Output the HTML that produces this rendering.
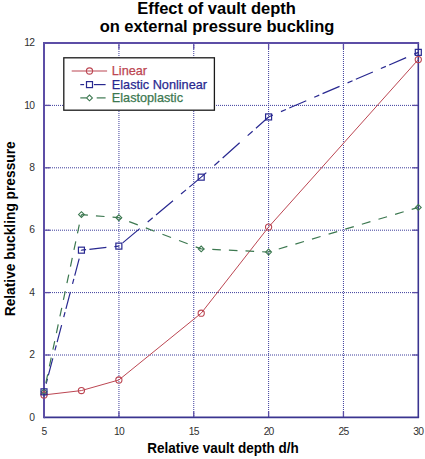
<!DOCTYPE html>
<html><head><meta charset="utf-8"><style>
html,body{margin:0;padding:0;background:#fff;width:425px;height:459px;overflow:hidden;position:relative}
text{font-family:"Liberation Sans",sans-serif}
.tl{font-size:10.3px;fill:#303030;letter-spacing:-0.8px}
.lg{font-size:12.7px;stroke-width:0.25px}
.tt{font-size:16.5px;font-weight:bold;fill:#000}
.ax{font-size:15px;font-weight:bold;fill:#000}
</style></head><body>
<svg width="425" height="459" viewBox="0 0 425 459" style="position:absolute;left:0;top:0">
<line x1="118.94" y1="43.0" x2="118.94" y2="417.4" stroke="#3c3c9c" stroke-width="1" stroke-dasharray="1,1"/>
<line x1="193.75" y1="43.0" x2="193.75" y2="417.4" stroke="#3c3c9c" stroke-width="1" stroke-dasharray="1,1"/>
<line x1="268.60" y1="43.0" x2="268.60" y2="417.4" stroke="#3c3c9c" stroke-width="1" stroke-dasharray="1,1"/>
<line x1="343.45" y1="43.0" x2="343.45" y2="417.4" stroke="#3c3c9c" stroke-width="1" stroke-dasharray="1,1"/>
<line x1="44.0" y1="355.00" x2="418.3" y2="355.00" stroke="#3c3c9c" stroke-width="1" stroke-dasharray="1,1"/>
<line x1="44.0" y1="292.60" x2="418.3" y2="292.60" stroke="#3c3c9c" stroke-width="1" stroke-dasharray="1,1"/>
<line x1="44.0" y1="230.20" x2="418.3" y2="230.20" stroke="#3c3c9c" stroke-width="1" stroke-dasharray="1,1"/>
<line x1="44.0" y1="167.80" x2="418.3" y2="167.80" stroke="#3c3c9c" stroke-width="1" stroke-dasharray="1,1"/>
<line x1="44.0" y1="105.40" x2="418.3" y2="105.40" stroke="#3c3c9c" stroke-width="1" stroke-dasharray="1,1"/>
<line x1="118.94" y1="417.4" x2="118.94" y2="411.4" stroke="#5c4ea6" stroke-width="1.3"/>
<line x1="118.94" y1="43.0" x2="118.94" y2="49.0" stroke="#5c4ea6" stroke-width="1.3"/>
<line x1="193.75" y1="417.4" x2="193.75" y2="411.4" stroke="#5c4ea6" stroke-width="1.3"/>
<line x1="193.75" y1="43.0" x2="193.75" y2="49.0" stroke="#5c4ea6" stroke-width="1.3"/>
<line x1="268.6" y1="417.4" x2="268.6" y2="411.4" stroke="#5c4ea6" stroke-width="1.3"/>
<line x1="268.6" y1="43.0" x2="268.6" y2="49.0" stroke="#5c4ea6" stroke-width="1.3"/>
<line x1="343.45" y1="417.4" x2="343.45" y2="411.4" stroke="#5c4ea6" stroke-width="1.3"/>
<line x1="343.45" y1="43.0" x2="343.45" y2="49.0" stroke="#5c4ea6" stroke-width="1.3"/>
<line x1="44.0" y1="355.0" x2="50.0" y2="355.0" stroke="#5c4ea6" stroke-width="1.3"/>
<line x1="418.3" y1="355.0" x2="412.3" y2="355.0" stroke="#5c4ea6" stroke-width="1.3"/>
<line x1="44.0" y1="292.59999999999997" x2="50.0" y2="292.59999999999997" stroke="#5c4ea6" stroke-width="1.3"/>
<line x1="418.3" y1="292.59999999999997" x2="412.3" y2="292.59999999999997" stroke="#5c4ea6" stroke-width="1.3"/>
<line x1="44.0" y1="230.20000000000002" x2="50.0" y2="230.20000000000002" stroke="#5c4ea6" stroke-width="1.3"/>
<line x1="418.3" y1="230.20000000000002" x2="412.3" y2="230.20000000000002" stroke="#5c4ea6" stroke-width="1.3"/>
<line x1="44.0" y1="167.79999999999998" x2="50.0" y2="167.79999999999998" stroke="#5c4ea6" stroke-width="1.3"/>
<line x1="418.3" y1="167.79999999999998" x2="412.3" y2="167.79999999999998" stroke="#5c4ea6" stroke-width="1.3"/>
<line x1="44.0" y1="105.39999999999998" x2="50.0" y2="105.39999999999998" stroke="#5c4ea6" stroke-width="1.3"/>
<line x1="418.3" y1="105.39999999999998" x2="412.3" y2="105.39999999999998" stroke="#5c4ea6" stroke-width="1.3"/>
<line x1="418.3" y1="43.0" x2="418.3" y2="417.4" stroke="#3a3490" stroke-width="1.6"/>
<line x1="44.0" y1="417.4" x2="419.1" y2="417.4" stroke="#3a3490" stroke-width="1.6"/>
<line x1="44.0" y1="42.0" x2="44.0" y2="418.2" stroke="#5c4ea6" stroke-width="2"/>
<line x1="43.0" y1="43.0" x2="419.1" y2="43.0" stroke="#5c4ea6" stroke-width="2"/>
<text x="44.0" y="435" text-anchor="middle" class="tl">5</text>
<text x="118.9" y="435" text-anchor="middle" class="tl">10</text>
<text x="193.7" y="435" text-anchor="middle" class="tl">15</text>
<text x="268.6" y="435" text-anchor="middle" class="tl">20</text>
<text x="343.4" y="435" text-anchor="middle" class="tl">25</text>
<text x="418.3" y="435" text-anchor="middle" class="tl">30</text>
<text x="34.2" y="420.6" text-anchor="end" class="tl">0</text>
<text x="34.2" y="358.2" text-anchor="end" class="tl">2</text>
<text x="34.2" y="295.8" text-anchor="end" class="tl">4</text>
<text x="34.2" y="233.4" text-anchor="end" class="tl">6</text>
<text x="34.2" y="171.0" text-anchor="end" class="tl">8</text>
<text x="34.2" y="108.6" text-anchor="end" class="tl">10</text>
<text x="34.2" y="46.2" text-anchor="end" class="tl">12</text>
<polyline points="44.00,394.94 81.43,390.57 118.86,379.96 201.21,313.19 268.58,227.08 418.30,59.54" fill="none" stroke="#bc4652" stroke-width="1.0"/>
<line x1="44.00" y1="391.82" x2="81.43" y2="250.17" stroke="#282890" stroke-width="1.2" stroke-dasharray="17.58,8.27,5.17,3.42" stroke-dashoffset="17.52"/>
<line x1="81.43" y1="250.17" x2="118.86" y2="246.11" stroke="#282890" stroke-width="1.2" stroke-dasharray="17.10,8.05,5.03,3.33" stroke-dashoffset="25.50"/>
<line x1="118.86" y1="246.11" x2="201.21" y2="177.16" stroke="#282890" stroke-width="1.2" stroke-dasharray="22.17,10.43,6.52,4.32" stroke-dashoffset="38.43"/>
<line x1="201.21" y1="177.16" x2="268.58" y2="116.94" stroke="#282890" stroke-width="1.2" stroke-dasharray="22.80,10.73,6.71,4.44" stroke-dashoffset="15.94"/>
<line x1="268.58" y1="116.94" x2="418.30" y2="52.36" stroke="#282890" stroke-width="1.2" stroke-dasharray="18.51,8.71,5.45,3.60" stroke-dashoffset="13.76"/>
<line x1="44.00" y1="391.82" x2="81.43" y2="214.60" stroke="#3c7850" stroke-width="1.2" stroke-dasharray="8.79,8.20" stroke-dashoffset="7.89"/>
<line x1="81.43" y1="214.60" x2="118.86" y2="217.72" stroke="#3c7850" stroke-width="1.2" stroke-dasharray="8.63,8.05" stroke-dashoffset="2.12"/>
<line x1="118.86" y1="217.72" x2="201.21" y2="248.92" stroke="#3c7850" stroke-width="1.2" stroke-dasharray="9.20,8.58" stroke-dashoffset="6.74"/>
<line x1="201.21" y1="248.92" x2="268.58" y2="252.04" stroke="#3c7850" stroke-width="1.2" stroke-dasharray="8.61,8.03" stroke-dashoffset="5.56"/>
<line x1="268.58" y1="252.04" x2="418.30" y2="207.42" stroke="#3c7850" stroke-width="1.2" stroke-dasharray="8.97,8.37" stroke-dashoffset="6.73"/>
<circle cx="44.00" cy="394.94" r="3.1" fill="none" stroke="#bc4652" stroke-width="1.1"/>
<circle cx="81.43" cy="390.57" r="3.1" fill="none" stroke="#bc4652" stroke-width="1.1"/>
<circle cx="118.86" cy="379.96" r="3.1" fill="none" stroke="#bc4652" stroke-width="1.1"/>
<circle cx="201.21" cy="313.19" r="3.1" fill="none" stroke="#bc4652" stroke-width="1.1"/>
<circle cx="268.58" cy="227.08" r="3.1" fill="none" stroke="#bc4652" stroke-width="1.1"/>
<circle cx="418.30" cy="59.54" r="3.1" fill="none" stroke="#bc4652" stroke-width="1.1"/>
<path d="M41.10,391.82 L44.00,388.92 L46.90,391.82 L44.00,394.72 Z" fill="none" stroke="#3c7850" stroke-width="1.1"/>
<path d="M78.53,214.60 L81.43,211.70 L84.33,214.60 L81.43,217.50 Z" fill="none" stroke="#3c7850" stroke-width="1.1"/>
<path d="M115.96,217.72 L118.86,214.82 L121.76,217.72 L118.86,220.62 Z" fill="none" stroke="#3c7850" stroke-width="1.1"/>
<path d="M198.31,248.92 L201.21,246.02 L204.11,248.92 L201.21,251.82 Z" fill="none" stroke="#3c7850" stroke-width="1.1"/>
<path d="M265.68,252.04 L268.58,249.14 L271.48,252.04 L268.58,254.94 Z" fill="none" stroke="#3c7850" stroke-width="1.1"/>
<path d="M415.40,207.42 L418.30,204.52 L421.20,207.42 L418.30,210.32 Z" fill="none" stroke="#3c7850" stroke-width="1.1"/>
<rect x="41.00" y="388.82" width="6" height="6" fill="none" stroke="#282890" stroke-width="1.2"/>
<rect x="78.43" y="247.17" width="6" height="6" fill="none" stroke="#282890" stroke-width="1.2"/>
<rect x="115.86" y="243.11" width="6" height="6" fill="none" stroke="#282890" stroke-width="1.2"/>
<rect x="198.21" y="174.16" width="6" height="6" fill="none" stroke="#282890" stroke-width="1.2"/>
<rect x="265.58" y="113.94" width="6" height="6" fill="none" stroke="#282890" stroke-width="1.2"/>
<rect x="415.30" y="49.36" width="6" height="6" fill="none" stroke="#282890" stroke-width="1.2"/>
<rect x="63.8" y="57.8" width="150.60000000000002" height="52.400000000000006" fill="#fff" stroke="#1a1a1a" stroke-width="1.3"/>
<line x1="71.7" y1="71.0" x2="107.1" y2="71.0" stroke="#bc4652" stroke-width="1.1"/>
<circle cx="89.50" cy="71.00" r="3.1" fill="none" stroke="#bc4652" stroke-width="1.1"/>
<line x1="80.3" y1="84.6" x2="84.1" y2="84.6" stroke="#282890" stroke-width="1.2"/>
<line x1="93.9" y1="84.6" x2="105.6" y2="84.6" stroke="#282890" stroke-width="1.2"/>
<rect x="86.50" y="81.60" width="6" height="6" fill="none" stroke="#282890" stroke-width="1.2"/>
<line x1="80.3" y1="97.9" x2="86.4" y2="97.9" stroke="#3c7850" stroke-width="1.2"/>
<line x1="96.7" y1="97.9" x2="105.6" y2="97.9" stroke="#3c7850" stroke-width="1.2"/>
<path d="M86.60,97.90 L89.50,95.00 L92.40,97.90 L89.50,100.80 Z" fill="none" stroke="#3c7850" stroke-width="1.1"/>
<text x="111.8" y="74.9" class="lg" fill="#bc4652" stroke="#bc4652">Linear</text>
<text x="111.8" y="88.5" class="lg" fill="#282890" stroke="#282890">Elastic Nonlinear</text>
<text x="111.8" y="101.80000000000001" class="lg" fill="#3c7850" stroke="#3c7850">Elastoplastic</text>
<text x="216.5" y="13.7" text-anchor="middle" class="tt">Effect of vault depth</text>
<text x="217" y="32.4" text-anchor="middle" class="tt">on external pressure buckling</text>
<text transform="translate(223,453.3) scale(0.9,1)" x="0" y="0" text-anchor="middle" class="ax">Relative vault depth d/h</text>
<text transform="translate(14.6,228.8) rotate(-90) scale(0.918,1)" x="0" y="0" text-anchor="middle" class="ax">Relative buckling pressure</text>
</svg>
</body></html>
